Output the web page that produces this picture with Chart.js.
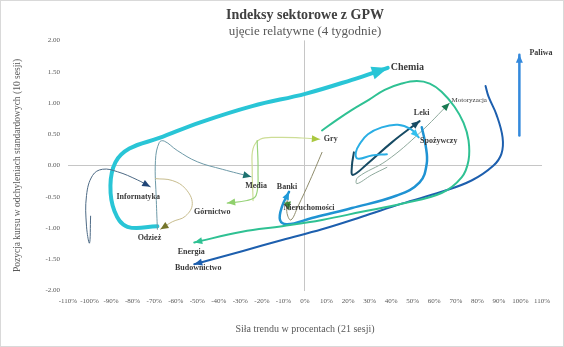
<!DOCTYPE html>
<html>
<head>
<meta charset="utf-8">
<script src="https://cdn.jsdelivr.net/npm/chart.js@4/dist/chart.umd.min.js"></script>
<style>
  html, body { margin: 0; padding: 0; background: #fff; }
  #wrap { width: 564px; height: 347px; }
</style>
</head>
<body>
<div id="wrap"><canvas id="chart" width="564" height="347"></canvas></div>
<script>
// Sector paths: trend strength in % (x) vs. position in std. deviations (y)
const chemiaX = [-68.5, -82.4, -88.4, -90.3, -88.0, -81.5, -67.6, -48.6, -24.5, 0.5, 21.8, 38.4];
const chemiaY = [-0.97, -0.98, -0.73, -0.32, 0.05, 0.27, 0.44, 0.69, 0.95, 1.15, 1.37, 1.56];

const informatykaX = [-99.5, -100, -101.4, -101.4, -98.6, -94, -87, -77.8, -71.8];
const informatykaY = [-0.81, -1.24, -0.97, -0.48, -0.16, -0.06, -0.10, -0.23, -0.34];

const odziezX = [-69.4, -61.6, -55.5, -52.3, -55.5, -61.6, -67.1];
const odziezY = [-0.21, -0.24, -0.37, -0.61, -0.81, -0.90, -1.02];

const mediaX = [-68.5, -69, -69.4, -67.6, -65.3, -59.3, -50, -38.4, -25];
const mediaY = [-1.02, -0.56, 0.08, 0.37, 0.39, 0.24, 0.06, -0.06, -0.18];

const gornictwoX = [-22.2, -21.8, -22.7, -26.9, -36.1];
const gornictwoY = [0.40, -0.08, -0.48, -0.56, -0.60];

const gryX = [-24.1, -24.5, -24.1, -20.8, -13, -1.4, 6.9];
const gryY = [-0.56, -0.05, 0.27, 0.42, 0.45, 0.44, 0.42];

const bankiX = [54.2, 56, 56.5, 53.2, 42.6, 21.8, 3.2, -8.3, -11.6, -10.6, -7.4];
const bankiY = [0.61, 0.32, 0.03, -0.27, -0.48, -0.68, -0.84, -0.94, -0.87, -0.65, -0.42];

const nieruchomosciX = [7.9, 2.3, -3.2, -6.5, -8.3, -8.3, -7.4];
const nieruchomosciY = [0.21, -0.24, -0.65, -0.87, -0.77, -0.56, -0.71];

const spozywczyX = [38, 31, 24.5, 23.6, 25.5, 29.2, 35.6, 43.1, 49.1, 52.8];
const spozywczyY = [0.18, 0.16, 0.11, 0.21, 0.35, 0.50, 0.61, 0.65, 0.58, 0.45];

const lekiX = [22.7, 21.8, 22.2, 28.7, 40.3, 53.2];
const lekiY = [0.21, 0.0, -0.15, 0.02, 0.37, 0.71];

const motoryzacjaX = [38, 31, 24.1, 24.5, 38, 53.2, 67.1];
const motoryzacjaY = [-0.03, -0.15, -0.29, -0.19, 0.08, 0.52, 1.0];

const energiaX = [7.9, 14.8, 21.8, 29.6, 37, 44.9, 51.9, 57.9, 63.4, 69.4, 73.6, 75.9, 75.9, 72.7, 63.4, 44.9, 26.4, 7.9, -10.6, -29.2, -51.4];
const energiaY = [0.56, 0.73, 0.89, 1.05, 1.21, 1.31, 1.35, 1.31, 1.18, 0.94, 0.68, 0.40, 0.08, -0.19, -0.44, -0.61, -0.74, -0.87, -0.97, -1.06, -1.23];

const budownictwoX = [83.8, 85.2, 88.9, 91.7, 91.2, 87.5, 77.3, 63.4, 44.9, 26.4, 7.9, -10.6, -29.2, -51.4];
const budownictwoY = [1.27, 1.10, 0.81, 0.45, 0.19, 0.0, -0.24, -0.42, -0.61, -0.82, -1.02, -1.19, -1.37, -1.58];

const paliwaX = [99.5, 99.5];
const paliwaY = [0.48, 1.77];

// Axis ticks
const xTicks = [-110, -100, -90, -80, -70, -60, -50, -40, -30, -20, -10, 0, 10, 20, 30, 40, 50, 60, 70, 80, 90, 100, 110];
const yTicks = [-2, -1.5, -1, -0.5, 0, 0.5, 1, 1.5, 2];

function pts(xs, ys) {
    return xs.map((x, i) => ({ x: x, y: ys[i] }));
}

function series(label, xs, ys, color, width, arrowColor, opts) {
    return Object.assign({
        label: label,
        data: pts(xs, ys),
        borderColor: color,
        borderWidth: width,
        arrowColor: arrowColor || color,
        arrowLen: 8,
        arrowWidth: 7,
        labelDx: 0,
        labelDy: 10,
        labelAlign: 'center',
        labelFont: 'bold 8px "Liberation Serif"'
    }, opts || {});
}

const datasets = [
    series('Informatyka', informatykaX, informatykaY, '#4d6a85', 1, '#1f4577', { labelDx: -12, labelDy: 10 }),
    series('Odzież', odziezX, odziezY, '#c8bd8e', 1, '#75752a', { labelDx: -11, labelDy: 9 }),
    series('Media', mediaX, mediaY, '#6e9aa8', 1, '#1e7270', { labelDx: 5, labelDy: 9 }),
    series('Górnictwo', gornictwoX, gornictwoY, '#98d37a', 1.2, '#8fd06c', { labelDx: -15, labelDy: 9 }),
    series('Gry', gryX, gryY, '#cddd96', 1.2, '#aac840', { labelDx: 4, labelDy: 0, labelAlign: 'left' }),
    series('Nieruchomości', nieruchomosciX, nieruchomosciY, '#8f8c6c', 1, '#3e8c3a', { labelDx: 20, labelDy: -2 }),
    series('Energia', energiaX, energiaY, '#2fc193', 2, '#2fc193', { labelDx: -3, labelDy: 10 }),
    series('Budownictwo', budownictwoX, budownictwoY, '#1d5fae', 2, '#1d5fae', { labelDx: 4, labelDy: 4 }),
    series('Banki', bankiX, bankiY, '#1f93d3', 2.5, '#1f9ad8', { labelDx: -2, labelDy: -5 }),
    series('Spożywczy', spozywczyX, spozywczyY, '#2aaee4', 2, '#33c0ee', { labelDx: 20, labelDy: 4 }),
    series('Motoryzacja', motoryzacjaX, motoryzacjaY, '#8faa9d', 1, '#187a52', { labelDx: 2, labelDy: -3, labelAlign: 'left', labelFont: '7px "Liberation Serif"' }),
    series('Leki', lekiX, lekiY, '#174b64', 2, '#174b64', { labelDx: 2, labelDy: -8 }),
    series('Paliwa', paliwaX, paliwaY, '#3389dc', 2.5, '#3389dc', { labelDx: 10, labelDy: -2, labelAlign: 'left' }),
    series('Chemia', chemiaX, chemiaY, '#29c5d6', 4, '#29c5d6', { arrowLen: 16, arrowWidth: 13, labelDx: 3, labelDy: -1, labelAlign: 'left', labelFont: 'bold 10px "Liberation Serif"' })
];

// Arrow heads at the end of each path, plus the sector name
const arrowPlugin = {
    id: 'arrows',
    afterDatasetsDraw(chart) {
        const ctx = chart.ctx;
        chart.data.datasets.forEach((ds, i) => {
            const meta = chart.getDatasetMeta(i);
            const n = meta.data.length;
            const tip = meta.data[n - 1];
            const prev = meta.data[n - 2];
            let bx = prev.x, by = prev.y;
            if (tip.cp1x !== undefined && Math.hypot(tip.x - tip.cp1x, tip.y - tip.cp1y) > 0.5) {
                bx = tip.cp1x; by = tip.cp1y;
            }
            const a = Math.atan2(tip.y - by, tip.x - bx);
            const L = ds.arrowLen, W = ds.arrowWidth / 2;
            ctx.save();
            ctx.fillStyle = ds.arrowColor;
            ctx.beginPath();
            ctx.moveTo(tip.x, tip.y);
            ctx.lineTo(tip.x - L * Math.cos(a) - W * Math.sin(a), tip.y - L * Math.sin(a) + W * Math.cos(a));
            ctx.lineTo(tip.x - L * Math.cos(a) + W * Math.sin(a), tip.y - L * Math.sin(a) - W * Math.cos(a));
            ctx.closePath();
            ctx.fill();
            ctx.fillStyle = '#3a3a3a';
            ctx.font = ds.labelFont;
            ctx.textAlign = ds.labelAlign;
            ctx.textBaseline = 'middle';
            ctx.fillText(ds.label, tip.x + ds.labelDx, tip.y + ds.labelDy);
            ctx.restore();
        });
    }
};

const framePlugin = {
    id: 'frame',
    beforeDraw(chart) {
        const ctx = chart.ctx;
        ctx.save();
        ctx.fillStyle = '#fff';
        ctx.fillRect(0, 0, chart.width, chart.height);
        ctx.strokeStyle = '#d9d9d9';
        ctx.strokeRect(0.5, 0.5, chart.width - 1, chart.height - 1);
        ctx.restore();
    }
};

const zeroLine = c => (c.tick && c.tick.value === 0) ? '#c6c6c6' : 'rgba(0,0,0,0)';

new Chart(document.getElementById('chart'), {
    type: 'scatter',
    data: { datasets: datasets },
    options: {
        responsive: false,
        animation: false,
        showLine: true,
        elements: {
            point: { radius: 0, hoverRadius: 0 },
            line: { tension: 0.4, fill: false, borderCapStyle: 'round', borderJoinStyle: 'round' }
        },
        layout: { padding: { left: 12, right: 22, top: 5, bottom: 12 } },
        plugins: {
            legend: { display: false },
            tooltip: { enabled: false },
            title: {
                display: true,
                fullSize: false,
                text: 'Indeksy sektorowe z GPW',
                color: '#404040',
                font: { family: '"Liberation Serif"', size: 14, weight: 'bold' },
                padding: { top: 2, bottom: 0 }
            },
            subtitle: {
                display: true,
                fullSize: false,
                text: 'ujęcie relatywne (4 tygodnie)',
                color: '#595959',
                font: { family: '"Liberation Serif"', size: 13 },
                padding: { top: 0, bottom: 1 }
            }
        },
        scales: {
            x: {
                type: 'linear',
                min: -110,
                max: 110,
                afterBuildTicks: axis => { axis.ticks = xTicks.map(v => ({ value: v })); },
                grid: { color: zeroLine, drawTicks: false, lineWidth: 1 },
                border: { display: false },
                ticks: {
                    color: '#595959',
                    padding: 6,
                    maxRotation: 0,
                    autoSkip: false,
                    font: { family: '"Liberation Serif"', size: 7 },
                    callback: v => v + '%'
                },
                title: {
                    display: true,
                    text: 'Siła trendu w procentach (21 sesji)',
                    color: '#595959',
                    font: { family: '"Liberation Serif"', size: 10 },
                    padding: { top: 12, bottom: 0 }
                }
            },
            y: {
                type: 'linear',
                min: -2,
                max: 2,
                afterBuildTicks: axis => { axis.ticks = yTicks.map(v => ({ value: v })); },
                grid: { color: zeroLine, drawTicks: false, lineWidth: 1 },
                border: { display: false },
                ticks: {
                    color: '#595959',
                    padding: 8,
                    autoSkip: false,
                    font: { family: '"Liberation Serif"', size: 7 },
                    callback: v => v.toFixed(2)
                },
                title: {
                    display: true,
                    text: 'Pozycja kursu w odchyleniach standardowych (10 sesji)',
                    color: '#595959',
                    font: { family: '"Liberation Serif"', size: 9.5 },
                    padding: { top: 0, bottom: 14 }
                }
            }
        }
    },
    plugins: [framePlugin, arrowPlugin]
});
</script>
</body>
</html>
